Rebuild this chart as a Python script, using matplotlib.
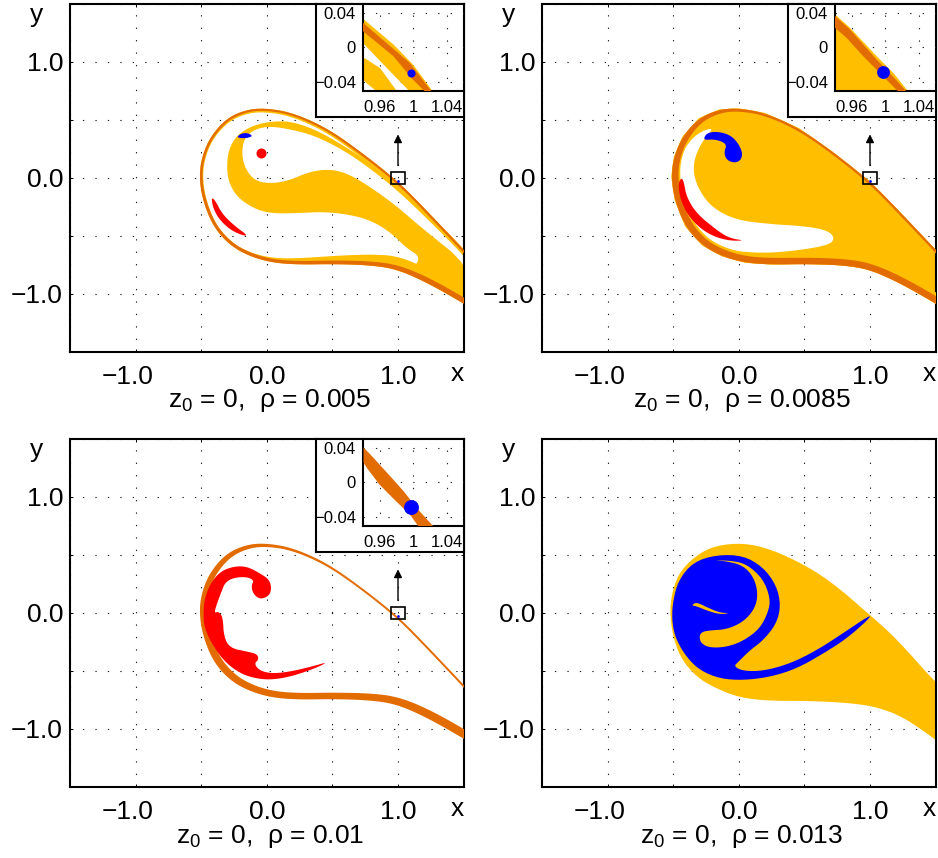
import matplotlib
matplotlib.use("Agg")
import matplotlib.pyplot as plt
import numpy as np
from matplotlib.patches import Rectangle
from matplotlib.transforms import ScaledTranslation

plt.rcParams['font.family'] = ['Liberation Sans', 'DejaVu Sans']
plt.rcParams['mathtext.default'] = 'regular'

YELLOW = '#FFBF00'
ORANGE = '#E36C00'
RED = '#FF0000'
BLUE = '#0000FF'

# outer edge of the escape region, shared by the first three panels
edge_x = [1.6, 1.5, 1.22, 1.0, .71, .457, .2, 0, -.15, -.305, -.43, -.495, -.515,
          -.49, -.41, -.28, -.127, .05, .254, .508, .788, .99, 1.22, 1.5, 1.6]
edge_y = [-.745, -.62, -.285, -.03, .23, .43, .56, .6, .59, .515, .355, .18, .01,
          -.19, -.42, -.585, -.68, -.735, -.75, -.745, -.755, -.79, -.905, -1.085, -1.16]

# band widths along the edge
p1_orange_w = [.018, .018, .018, .018, .018, .018, .018, .018, .019, .019, .019, .019, .02,
               .022, .024, .026, .028, .028, .03, .032, .035, .04, .045, .045, .045]
p1_yellow_w = [.035, .035, .032, .032, .032, .032, .032, .032, .032, .03, .025, .025, .025,
               .025, .025, .025, .03, .04, .055, .07, .095, .115, .1, .1, .1]
p2_orange_w = [.018, .018, .018, .018, .018, .019, .021, .024, .03, .038, .044, .047, .05,
               .052, .054, .054, .056, .056, .056, .056, .056, .056, .056, .056, .056]
p2_yellow_w = [.018, .018, .018, .018, .018, .019, .021, .024, .03, .042, .052, .057, .064,
               .072, .072, .072, .077, .082, .082, .082, .082, .082, .082, .082, .082]
p3_orange_w = [.016, .016, .016, .016, .016, .018, .022, .027, .034, .041, .046, .046, .052,
               .056, .06, .06, .058, .056, .056, .056, .06, .065, .07, .07, .07]

# panel 1
p1_tongue_x = [-.305, -.292, -.229, -.102, .051, .203, .407, .661, .864, .998, 1.22, 1.55,
               1.55, 1.22, .998, .788, .584, .356, .152, 0, -.114, -.178, -.191, -.152, -.076,
               .051, .178, .305, .432, .559, .711, .965, 1.169, 1.55, 1.55, 1.22, 1.1, 1.176,
               1.067, .965, .838, .686, .457, .203, .025, -.102, -.229, -.292]
p1_tongue_y = [.095, .239, .368, .454, .489, .483, .397, .224, .066, -.063, -.293, -.667,
               -.724, -.351, -.112, .08, .239, .368, .425, .445, .405, .325, .181, .052, -.034,
               -.049, -.02, .043, .072, .06, -.02, -.221, -.422, -.767, -1.098, -.89, -.8, -.687,
               -.609, -.494, -.394, -.33, -.293, -.307, -.307, -.264, -.164, -.034]
p1_blue_x = [-.229, -.19, -.14, -.107, -.152, -.203]
p1_blue_y = [.353, .385, .385, .359, .342, .342]
p1_red_x = [-.424, -.394, -.343, -.254, -.127, -.254, -.356, -.407]
p1_red_y = [-.17, -.193, -.307, -.408, -.514, -.47, -.37, -.27]
p1_dot = (-.043, .21)

# panel 2
p2_pocket_x = [-.183, -.323, -.424, -.475, -.462, -.399, -.272, -.069, .185, .44, .694, .732,
               .668, .49, .236, -.018, -.196, -.297, -.348, -.335, -.272]
p2_pocket_y = [.44, .382, .239, .037, -.164, -.365, -.537, -.629, -.652, -.629, -.58, -.514,
               -.451, -.417, -.4, -.365, -.264, -.121, .037, .181, .325]
p2_red_x = [-.462, -.437, -.419, -.399, -.323, -.17, -.069, .053, -.094, -.246, -.373, -.445]
p2_red_y = [-.049, 0, -.034, -.164, -.307, -.451, -.523, -.543, -.543, -.48, -.351, -.193]
p2_blue_x = [-.272, -.246, -.17, -.069, -.005, .03, .012, -.043, -.098, -.112, -.092, -.132, -.196]
p2_blue_y = [.325, .385, .4, .372, .3, .21, .145, .128, .16, .224, .282, .315, .332]

# panel 3
p3_red_x = [-.483, -.478, -.432, -.356, -.254, -.152, -.051, .02, .036, .016, -.051, -.105, -.118,
            -.097, -.152, -.254, -.318, -.343, -.381, -.401, -.368, -.335, -.327, -.279, -.152,
            -.076, -.06, -.097, -.051, .051, .203, .356, .465, .381, .203, .051, -.076, -.203,
            -.33, -.432, -.475]
p3_red_y = [-.037, .106, .25, .355, .4, .4, .34, .285, .207, .145, .115, .164, .236,
            .279, .31, .303, .26, .19, .075, -.003, .011, -.037, -.21, -.305, -.335,
            -.355, -.402, -.44, -.503, -.526, -.503, -.46, -.425, -.474, -.545, -.578, -.57, -.525,
            -.415, -.243, -.124]

# panel 4
p4_yellow_x = [1.557, 1.499, 1.202, .998, .694, .44, .185, -.018, -.221, -.373, -.475, -.526,
               -.513, -.45, -.323, -.17, .008, .236, .541, .846, 1.049, 1.253, 1.499, 1.557]
p4_yellow_y = [-.641, -.603, -.224, -.017, .279, .451, .572, .603, .566, .451, .307, .078,
               -.152, -.382, -.555, -.655, -.733, -.761, -.761, -.779, -.813, -.899, -1.095, -1.144]
p4_blue_x = [-.508, -.506, -.462, -.348, -.17, .033, .185, .287, .32, .287, .185, .084, -.005, -.038,
             .033, .185, .389, .592, .77, 1.004, .993, .821, .643, .44, .236, .033, -.145, -.297,
             -.399, -.475]
p4_blue_y = [-.095, .078, .279, .437, .5, .494, .394, .236, .063, -.095, -.239, -.325, -.425, -.463,
             -.503, -.503, -.44, -.325, -.195, -.017, -.052, -.224, -.353, -.483, -.555, -.583, -.569,
             -.497, -.382, -.239]
p4_spiral_x = [-.302, -.285, -.221, -.094, .033, .122, .147, .114, .033, -.094, -.196, -.069, .058,
               .185, .241, .224, .16, .033, -.094, -.221, -.285]
p4_spiral_y = [-.21, -.167, -.152, -.144, -.08, .034, .164, .307, .408, .445, .451, .451, .422,
               .293, .121, .006, -.138, -.244, -.296, -.302, -.267]
p4_thin_x = [-.361, -.323, -.246, -.145, -.064, -.145, -.246, -.323]
p4_thin_y = [.063, .092, .049, 0, -.003, -.014, .02, .057]

# insets, x range 0.94-1.06, y range -0.05-0.05
i1_yellow_x = [.94, .9766, 1.0, 1.0235, .996, .9726, .94]
i1_yellow_y = [.0333, .0033, -.02, -.051, -.051, -.0278, .0053]
i1_yellow2_x = [.94, .9607, .981, .9567, .94]
i1_yellow2_y = [-.0111, -.0239, -.051, -.051, -.0375]
i1_orange_x = [.94, .996, 1.022, 1.014, 1.0, .9766, .94]
i1_orange_y = [.0286, -.018, -.051, -.051, -.0375, -.0103, .0189]
i2_yellow_x = [.94, .958, .99, 1.01, 1.0275, .94]
i2_yellow_y = [.0383, .0228, -.0103, -.0298, -.051, -.051]
i2_orange_x = [.94, .958, .99, 1.01, 1.0255, 1.0156, 1.0018, .974, .954, .94]
i2_orange_y = [.0364, .0208, -.0142, -.0344, -.051, -.051, -.0375, -.0103, .0111, .0228]
i3_orange_x = [.941, .9507, .9726, .9888, 1.0044, 1.0242, 1.0064, .9964, .9758, .9599, .9448, .941]
i3_orange_y = [.0403, .0305, .0072, -.0103, -.0298, -.051, -.051, -.0375, -.0181, -.0025, .0169, .0228]
i_blue = [(.9976, -.0298), (.9978, -.029), (.9975, -.0285)]
i_blue_size = [34, 85, 115]

main_ticks = [-1.5, -1.0, -.5, 0, .5, 1.0, 1.5]
main_labels = ['', '\u22121.0', '', '0.0', '', '1.0', '']
inset_xticks = [.96, 1, 1.04]
inset_xlabels = ['0.96', '1', '1.04']
inset_yticks = [-.04, 0, .04]
inset_ylabels = ['\u22120.04', '0', '0.04']
rhos = ['0.005', '0.0085', '0.01', '0.013']


def chaikin(x, y, n=2):
    # rounds the corners of a closed outline
    p = np.column_stack([x, y])
    for _ in range(n):
        q = np.roll(p, -1, axis=0)
        p = np.column_stack([.75 * p + .25 * q, .25 * p + .75 * q]).reshape(-1, 2)
    return p[:, 0], p[:, 1]


def ribbon(ax, x, y, w, color, zorder):
    # band of width w on the inner side of an open curve
    p = np.column_stack([x, y, w])
    for _ in range(3):
        new = [p[0]]
        for a, b in zip(p[:-1], p[1:]):
            new += [.75 * a + .25 * b, .25 * a + .75 * b]
        new.append(p[-1])
        p = np.array(new)
    dx, dy = np.gradient(p[:, 0]), np.gradient(p[:, 1])
    ds = np.hypot(dx, dy)
    ix = p[:, 0] - dy / ds * p[:, 2]
    iy = p[:, 1] + dx / ds * p[:, 2]
    ax.fill(np.r_[p[:, 0], ix[::-1]], np.r_[p[:, 1], iy[::-1]], color=color, lw=0, zorder=zorder)


def blob(ax, x, y, color, zorder=3, n=2):
    sx, sy = chaikin(x, y, n)
    ax.fill(sx, sy, color=color, lw=0, zorder=zorder)


def px_axes(fig, left, right, top, bottom, **kw):
    return fig.add_axes([left / 938, 1 - bottom / 858, (right - left) / 938, (bottom - top) / 858], **kw)


def style_axes(ax):
    ax.set_axisbelow(True)
    ax.grid(True, color='#222222', linewidth=.8, linestyle=(0, (1.2, 10)))
    for s in ax.spines.values():
        s.set_linewidth(1.5)
    ax.tick_params(direction='in', length=2.2, width=.7, top=True, right=True)


def main_axes(fig, left, top, i):
    right, bottom = left + 393.6, top + 347.5
    ax = px_axes(fig, left, right, top, bottom, zorder=1)
    ax.set_xlim(-1.5, 1.5)
    ax.set_ylim(-1.5, 1.5)
    ax.set_xticks(main_ticks, main_labels)
    ax.set_yticks(main_ticks, main_labels)
    style_axes(ax)
    ax.tick_params(axis='both', labelsize=19)
    ax.tick_params(axis='x', pad=10)
    ax.tick_params(axis='y', pad=5)
    # the minus hangs to the left of the centred digits
    lab = ax.get_xticklabels()[1]
    lab.set_transform(lab.get_transform() + ScaledTranslation(-8 / 100, 0, fig.dpi_scale_trans))
    fig.text((left - 33) / 938, 1 - (top + 11) / 858, 'y', fontsize=19, ha='center', va='center')
    fig.text((left + 387) / 938, 1 - (top + 370) / 858, 'x', fontsize=19, ha='center', va='center')
    fig.text((left + 200) / 938, 1 - (top + 397) / 858, 'z$_0$ = 0,  \u03c1 = ' + rhos[i],
             fontsize=19, ha='center', va='center')
    return ax


def add_inset(fig, ax, left, top, i):
    # left/top: pixel corner of the main axes
    out = px_axes(fig, left + 246, left + 393.6, top, top + 112.7, zorder=2)
    out.set_xticks([])
    out.set_yticks([])
    for s in out.spines.values():
        s.set_linewidth(1.5)
    ins = px_axes(fig, left + 292.7, left + 393.6, top, top + 86.7, zorder=3)
    ins.patch.set_alpha(0)
    ins.set_xlim(.94, 1.06)
    ins.set_ylim(-.05, .05)
    ins.set_xticks(inset_xticks, inset_xlabels)
    ins.set_yticks(inset_yticks, inset_ylabels)
    style_axes(ins)
    ins.tick_params(axis='both', labelsize=12, top=False, right=False, length=0)
    ins.tick_params(axis='x', pad=6.5)
    ins.tick_params(axis='y', pad=5)
    ins.spines['top'].set_visible(False)
    ins.spines['right'].set_visible(False)
    # box around the zoomed region and the arrow pointing up to the inset
    ax.add_patch(Rectangle((.95, -.05), .1, .1, fill=False, ec='black', lw=1.2, zorder=6))
    ax.annotate('', xy=(1.0, .375), xytext=(1.0, .105),
                arrowprops=dict(arrowstyle='-|>', color='black', lw=1.0, mutation_scale=12, shrinkA=0, shrinkB=0),
                zorder=6)
    ax.scatter([i_blue[i][0]], [i_blue[i][1]], s=4, color=BLUE, lw=0, zorder=5)
    ins.scatter([i_blue[i][0]], [i_blue[i][1]], s=i_blue_size[i], color=BLUE, lw=0, zorder=5)
    return ins


fig = plt.figure(figsize=(9.38, 8.58), dpi=100)

# panel 1
left, top = 70, 4
ax = main_axes(fig, left, top, 0)
ribbon(ax, edge_x, edge_y, p1_yellow_w, YELLOW, 2)
blob(ax, p1_tongue_x, p1_tongue_y, YELLOW, 2, n=2)
ribbon(ax, edge_x, edge_y, p1_orange_w, ORANGE, 3)
blob(ax, p1_blue_x, p1_blue_y, BLUE)
blob(ax, p1_red_x, p1_red_y, RED)
ax.scatter([p1_dot[0]], [p1_dot[1]], s=52, color=RED, lw=0, zorder=3)
ins = add_inset(fig, ax, left, top, 0)
ins.fill(i1_yellow_x, i1_yellow_y, color=YELLOW, lw=0, zorder=2)
ins.fill(i1_yellow2_x, i1_yellow2_y, color=YELLOW, lw=0, zorder=2)
ins.fill(i1_orange_x, i1_orange_y, color=ORANGE, lw=0, zorder=3)

# panel 2
left, top = 542, 4
ax = main_axes(fig, left, top, 1)
ax.fill(edge_x, edge_y, color=YELLOW, lw=0, zorder=2)
blob(ax, p2_pocket_x, p2_pocket_y, 'white', 2.5)
ribbon(ax, edge_x, edge_y, p2_yellow_w, YELLOW, 2.6)
ribbon(ax, edge_x, edge_y, p2_orange_w, ORANGE, 3)
blob(ax, p2_red_x, p2_red_y, RED)
blob(ax, p2_blue_x, p2_blue_y, BLUE)
ins = add_inset(fig, ax, left, top, 1)
ins.fill(i2_yellow_x, i2_yellow_y, color=YELLOW, lw=0, zorder=2)
ins.fill(i2_orange_x, i2_orange_y, color=ORANGE, lw=0, zorder=3)

# panel 3
left, top = 70, 439
ax = main_axes(fig, left, top, 2)
ribbon(ax, edge_x, edge_y, p3_orange_w, ORANGE, 3)
blob(ax, p3_red_x, p3_red_y, RED, 4, n=2)
ins = add_inset(fig, ax, left, top, 2)
ins.fill(i3_orange_x, i3_orange_y, color=ORANGE, lw=0, zorder=3)

# panel 4
left, top = 542, 439
ax = main_axes(fig, left, top, 3)
blob(ax, p4_yellow_x, p4_yellow_y, YELLOW, 2, n=2)
blob(ax, p4_blue_x, p4_blue_y, BLUE, 3, n=2)
blob(ax, p4_spiral_x, p4_spiral_y, YELLOW, 4, n=2)
blob(ax, p4_thin_x, p4_thin_y, YELLOW, 4, n=2)

fig.savefig('out.png', dpi=100)
